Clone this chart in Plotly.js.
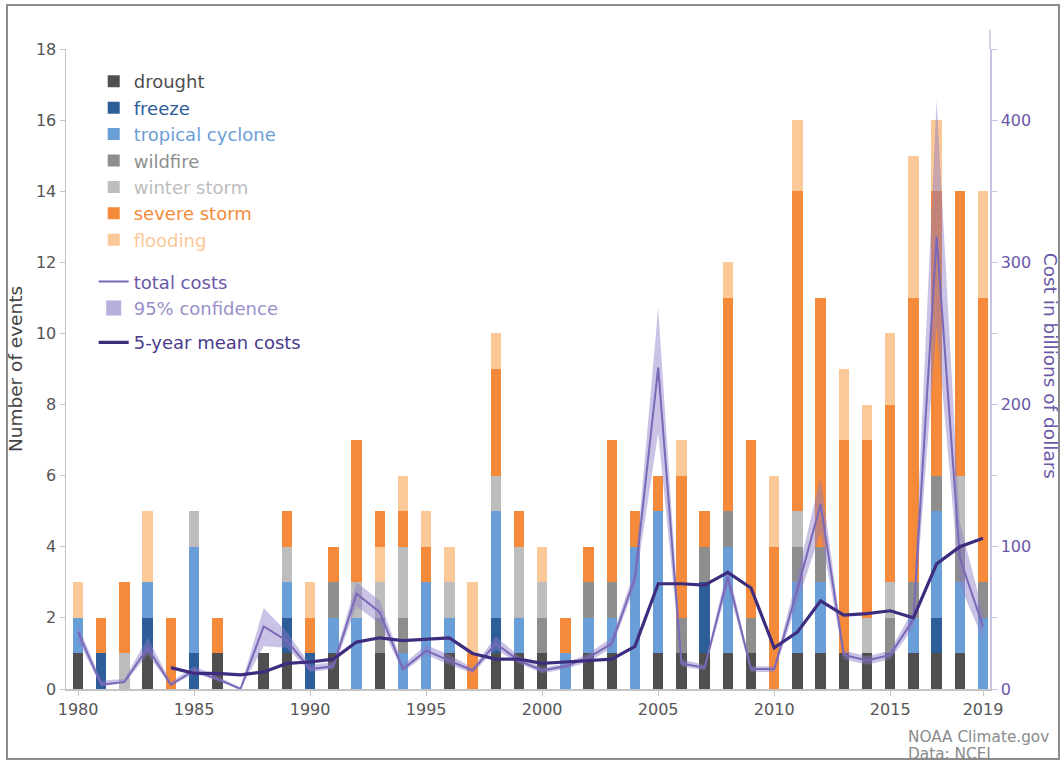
<!DOCTYPE html>
<html>
<head>
<meta charset="utf-8">
<script src="https://cdn.plot.ly/plotly-3.0.1.min.js"></script>
<style>
  html, body { margin: 0; padding: 0; background: #ffffff; }
  #chart { width: 1061px; height: 763px; position: relative; }
  #frame { position: absolute; left: 6px; top: 4px; width: 1050px; height: 752px;
           border: 2px solid #8c8c8c; pointer-events: none; }
</style>
</head>
<body>
<div id="chart"></div>
<div id="frame"></div>
<script>
// ---- data ----
const years = [1980,1981,1982,1983,1984,1985,1986,1987,1988,1989,
               1990,1991,1992,1993,1994,1995,1996,1997,1998,1999,
               2000,2001,2002,2003,2004,2005,2006,2007,2008,2009,
               2010,2011,2012,2013,2014,2015,2016,2017,2018,2019];

const drought         = [1,0,0,1,0,0,1,0,1,1, 0,1,0,1,0,0,1,0,1,1, 1,0,1,1,0,1,1,1,1,1, 0,1,1,1,1,1,1,1,1,0];
const freeze          = [0,1,0,1,0,1,0,0,0,1, 1,0,0,0,0,0,0,0,1,0, 0,0,0,0,0,0,0,2,0,0, 0,0,0,0,0,0,0,1,0,0];
const tropicalCyclone = [1,0,0,1,0,3,0,0,0,1, 0,1,2,0,1,3,1,0,3,1, 0,1,1,1,4,4,0,0,3,0, 0,2,2,0,0,0,1,3,2,2];
const wildfire        = [0,0,0,0,0,0,0,0,0,0, 0,1,0,1,1,0,0,0,0,0, 1,0,1,1,0,0,1,1,1,1, 0,1,1,0,0,1,1,1,1,1];
const winterStorm     = [0,0,1,0,0,1,0,0,0,1, 0,0,1,1,2,0,1,0,1,2, 1,0,0,0,0,0,0,0,0,0, 0,1,0,0,1,1,0,0,2,0];
const severeStorm     = [0,1,2,0,2,0,1,0,0,1, 1,1,4,0,1,1,0,1,3,1, 0,1,1,4,1,1,4,1,6,5, 4,9,7,6,5,5,8,8,8,8];
const flooding        = [1,0,0,2,0,0,0,0,0,0, 1,0,0,1,1,1,1,2,1,0, 1,0,0,0,0,0,1,0,1,0, 2,2,0,2,1,2,4,2,0,3];
// in 1993 the severe-storm block sits above the flooding block
const severeStormTop  = [0,0,0,0,0,0,0,0,0,0, 0,0,0,1,0,0,0,0,0,0, 0,0,0,0,0,0,0,0,0,0, 0,0,0,0,0,0,0,0,0,0];

// costs, billions of dollars
const totalCosts = [40,3,5,29,3,13,7,0,44,34, 14,16,67,54,14,27,20,13,32,20,
                    13,16,22,32,78,226,18,15,79,14, 14,70,130,24,20,24,49,318,92,44];
const ciUpper    = [45,6,7,36,5,16,9,1,57,40, 17,19,75,62,17,31,24,15,37,23,
                    15,18,25,36,84,268,21,17,86,16, 16,80,149,27,23,27,56,414,117,54];
const ciLower    = [34,2,4,24,2,11,6,0,30,29, 12,14,58,46,12,24,17,11,28,18,
                    11,14,19,29,72,180,16,13,72,12, 12,61,110,21,17,21,43,255,73,35];
const fiveYearMean = [null,null,null,null,15,11,11,10,12,18, 19,21,33,36,34,35,36,25,21,21,
                      18,19,20,21,30,74,74,73,82,71, 29,40,62,52,53,55,50,88,100,106];

const xTickVals = [1980,1985,1990,1995,2000,2005,2010,2015,2019];
const xTickText = ['1980','1985','1990','1995','2000','2005','2010','2015','2019'];

// ---- styling ----
const colors = {
  drought: '#4f4f4f', freeze: '#2d5e98', tc: '#6a9ed6', wildfire: '#8e8e8e',
  winter: '#bdbdbd', severe: '#f58a3b', flooding: '#fbc897',
  total: '#7a68b8', band: 'rgba(138,122,198,0.45)', mean: '#3e2c7e'
};
const barW = 0.45;
function lbl(text, c) { return '<span style="color:' + c + '">' + text + '</span>'; }
function bar(name, y, c, rank, showLegend) {
  return { type: 'bar', x: years, y: y, name: lbl(name, c), width: barW,
           marker: { color: c, line: { width: 0 } }, legendgroup: 'events',
           legendrank: rank, showlegend: showLegend !== false, hoverinfo: 'x+y' };
}

const traces = [
  bar('drought', drought, colors.drought, 1),
  bar('freeze', freeze, colors.freeze, 2),
  bar('tropical cyclone', tropicalCyclone, colors.tc, 3),
  bar('wildfire', wildfire, colors.wildfire, 4),
  bar('winter storm', winterStorm, colors.winter, 5),
  bar('severe storm', severeStorm, colors.severe, 6),
  bar('flooding', flooding, colors.flooding, 7),
  bar('severe storm', severeStormTop, colors.severe, 8, false),
  { type: 'scatter', mode: 'lines', yaxis: 'y2',
    x: years.concat(years.slice().reverse()),
    y: ciUpper.concat(ciLower.slice().reverse()),
    fill: 'toself', fillcolor: colors.band, line: { width: 0, color: colors.band },
    name: '95% confidence band', showlegend: false, hoverinfo: 'skip' },
  { type: 'scatter', mode: 'lines', yaxis: 'y2', x: years, y: totalCosts,
    line: { color: colors.total, width: 2 }, name: lbl('total costs', '#6a58a8'),
    legend: 'legend2', legendgroup: 'costs', legendrank: 1 },
  // legend swatch for the confidence band
  { type: 'scatter', mode: 'markers', yaxis: 'y2', x: [null], y: [null],
    marker: { symbol: 'square', size: 15, color: 'rgba(138,122,198,0.6)' },
    name: lbl('95% confidence', '#9a8fcc'), legend: 'legend2', legendgroup: 'costs',
    legendrank: 2, hoverinfo: 'skip' },
  { type: 'scatter', mode: 'lines', yaxis: 'y2', x: years, y: fiveYearMean,
    line: { color: colors.mean, width: 3.2 }, name: lbl('5-year mean costs', '#4a3a8c'),
    legend: 'legend2', legendgroup: 'mean', legendrank: 3, connectgaps: false }
];

const FONT = '"DejaVu Sans", "Noto Sans", sans-serif';
const layout = {
  width: 1061, height: 763,
  margin: { l: 66, r: 71, t: 49, b: 74 },
  paper_bgcolor: '#ffffff', plot_bgcolor: '#ffffff',
  font: { family: FONT, size: 16, color: '#555555' },
  barmode: 'stack',
  showlegend: true,
  legend: { x: 0.030, y: 0.978, xanchor: 'left', yanchor: 'top', traceorder: 'grouped',
            bgcolor: 'rgba(0,0,0,0)', font: { family: FONT, size: 18 } },
  legend2: { x: 0.030, y: 0.665, xanchor: 'left', yanchor: 'top', traceorder: 'grouped',
             tracegroupgap: 8, bgcolor: 'rgba(0,0,0,0)', font: { family: FONT, size: 18 } },
  xaxis: {
    range: [1979.48, 2019.3], showgrid: false, zeroline: false,
    showline: true, linecolor: '#c4c4c4', linewidth: 1.5,
    ticks: 'outside', ticklen: 5, tickcolor: '#c4c4c4',
    tickvals: xTickVals, ticktext: xTickText,
    tickfont: { family: FONT, size: 16, color: '#555555' }
  },
  yaxis: {
    range: [0, 18], dtick: 2, showgrid: false, zeroline: false,
    showline: true, linecolor: '#c4c4c4', linewidth: 1.5,
    ticks: 'outside', ticklen: 5, tickcolor: '#c4c4c4',
    tickfont: { family: FONT, size: 16, color: '#555555' },
    title: { text: 'Number of events', standoff: 8, font: { family: FONT, size: 18.5, color: '#444444' } }
  },
  yaxis2: {
    overlaying: 'y', side: 'right', range: [0, 450], dtick: 100,
    showgrid: false, zeroline: false,
    showline: true, linecolor: '#c9c2e2', linewidth: 1.5,
    ticks: 'outside', ticklen: 6, tickcolor: '#c9c2e2',
    minor: { dtick: 50, ticks: 'outside', ticklen: 5, tickcolor: '#c9c2e2' },
    tickfont: { family: FONT, size: 16, color: '#6a58a8' }
  },
  shapes: [
    { type: 'line', xref: 'paper', yref: 'paper', x0: 1, x1: 1, y0: 1, y1: 1.03,
      line: { color: '#c9c2e2', width: 1.5 } }
  ],
  annotations: [
    { text: 'Cost in billions of dollars', xref: 'paper', yref: 'paper', x: 1.065, y: 0.505,
      xanchor: 'center', yanchor: 'middle',
      textangle: 90, showarrow: false, font: { family: FONT, size: 18.5, color: '#6a58a8' } },
    { text: 'NOAA Climate.gov', xref: 'paper', yref: 'paper', x: 0.909, y: -0.075,
      xanchor: 'left', yanchor: 'middle', showarrow: false,
      font: { family: FONT, size: 15.3, color: '#8a8a8a' } },
    { text: 'Data: NCEI', xref: 'paper', yref: 'paper', x: 0.909, y: -0.102,
      xanchor: 'left', yanchor: 'middle', showarrow: false,
      font: { family: FONT, size: 15.3, color: '#8a8a8a' } }
  ]
};

Plotly.newPlot('chart', traces, layout, { displayModeBar: false, staticPlot: true });
</script>
</body>
</html>
